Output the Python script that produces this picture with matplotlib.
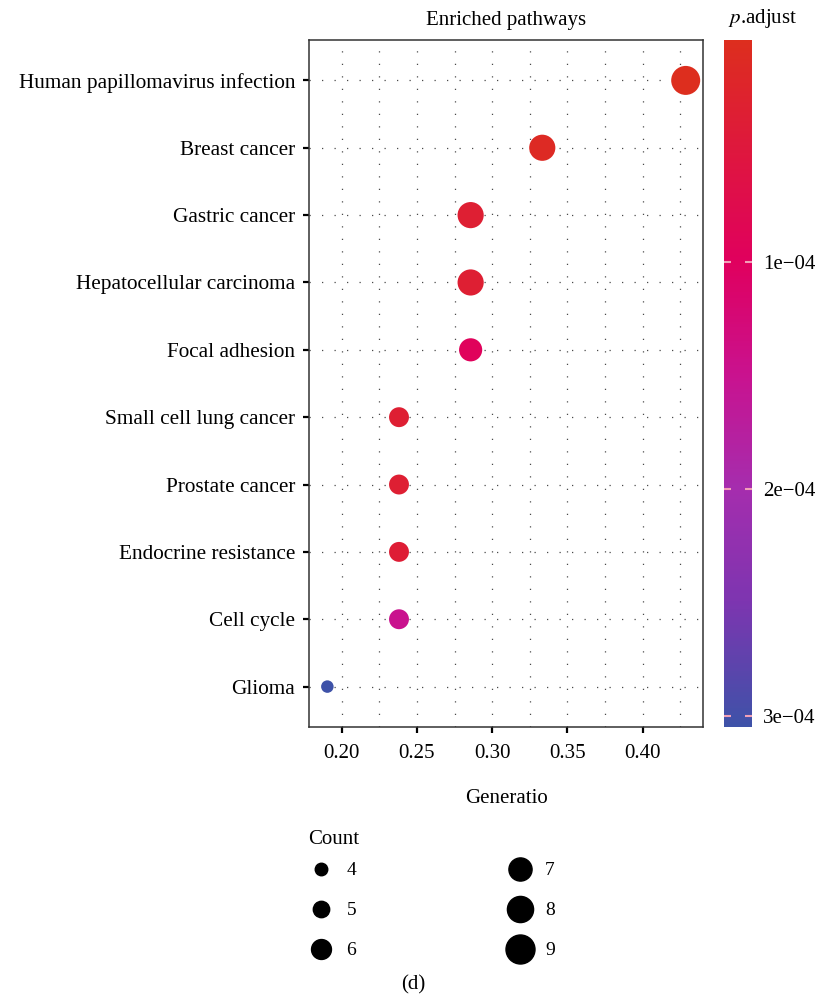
import matplotlib
matplotlib.use("Agg")
import matplotlib.pyplot as plt
import numpy as np
from matplotlib.colors import LinearSegmentedColormap, Normalize
from matplotlib.lines import Line2D
from matplotlib.ticker import MultipleLocator

plt.rcParams["font.family"] = ["Liberation Serif", "DejaVu Serif"]
plt.rcParams["mathtext.fontset"] = "stix"

pathways = [
    "Human papillomavirus infection",
    "Breast cancer",
    "Gastric cancer",
    "Hepatocellular carcinoma",
    "Focal adhesion",
    "Small cell lung cancer",
    "Prostate cancer",
    "Endocrine resistance",
    "Cell cycle",
    "Glioma",
]
gene_ratio = [0.4286, 0.3333, 0.2857, 0.2857, 0.2857, 0.2381, 0.2381, 0.2381, 0.2381, 0.1905]
counts = [9, 8, 8, 8, 7, 6, 6, 6, 6, 4]
p_adjust = [2.2e-6, 1.2e-5, 3.5e-5, 3.5e-5, 9.5e-5, 3.5e-5, 3.5e-5, 3.8e-5, 1.5e-4, 3.05e-4]

cbar_ticks = [1e-4, 2e-4, 3e-4]
cbar_labels = ["1e\u221204", "2e\u221204", "3e\u221204"]
legend_counts = [4, 5, 6, 7, 8, 9]

W, H = 816, 1002
fig = plt.figure(figsize=(W / 100, H / 100), dpi=100)


def fx(px):
    return px / W


def fy(px):
    return 1 - px / H


vmin, vmax = min(p_adjust), max(p_adjust)
stops = [
    (0.0, "#dd2e1e"),
    (0.323, "#e0005e"),
    (0.488, "#c9128f"),
    (0.653, "#a52dae"),
    (0.818, "#7d35b0"),
    (1.0, "#3e52a8"),
]
cmap = LinearSegmentedColormap.from_list("padj", stops)
norm = Normalize(vmin=vmin, vmax=vmax)


def diam_pt(c):
    # area-style scale: diameter grows with sqrt(count)
    lo, hi = min(legend_counts), max(legend_counts)
    d_px = 12.5 + (np.sqrt(c) - np.sqrt(lo)) / (np.sqrt(hi) - np.sqrt(lo)) * 16.5
    return d_px * 72 / 100


ax = fig.add_axes([fx(309), fy(727), fx(703) - fx(309), fy(40) - fy(727)])
y = np.arange(len(pathways))
sizes = [diam_pt(c) ** 2 for c in counts]
ax.scatter(gene_ratio, y, s=sizes, c=p_adjust, cmap=cmap, norm=norm,
           edgecolors="none", zorder=3)

ax.set_yticks(y)
ax.set_yticklabels(pathways, fontsize=15.3)
ax.set_ylim(len(pathways) - 0.4, -0.6)
ax.set_xlim(0.1783, 0.4401)
ax.xaxis.set_major_locator(MultipleLocator(0.05))
ax.xaxis.set_minor_locator(MultipleLocator(0.025))
ax.set_xticks([0.20, 0.25, 0.30, 0.35, 0.40])
ax.set_xticklabels(["0.20", "0.25", "0.30", "0.35", "0.40"], fontsize=15)

grid_kw = dict(color="#4a4a4a", linewidth=0.9, linestyle=(0, (1, 9)))
ax.grid(True, which="major", axis="both", **grid_kw)
ax.grid(True, which="minor", axis="x", **grid_kw)
ax.set_axisbelow(True)

ax.tick_params(axis="both", which="major", direction="out", length=4,
               width=1.6, color="black", pad=6)
ax.tick_params(axis="x", which="major", pad=8)
ax.tick_params(axis="x", which="minor", length=0)
for sp in ax.spines.values():
    sp.set_color("#333333")
    sp.set_linewidth(1.1)

ax.set_title("Enriched pathways", fontsize=15, pad=11)
ax.set_xlabel("Generatio", fontsize=15, labelpad=19)

# colour bar
cax = fig.add_axes([fx(724), fy(727), fx(752) - fx(724), fy(40) - fy(727)])
sm = plt.cm.ScalarMappable(cmap=cmap, norm=norm)
cb = fig.colorbar(sm, cax=cax)
cb.outline.set_visible(False)
cax.invert_yaxis()
cb.set_ticks(cbar_ticks)
cb.set_ticklabels(cbar_labels)
cax.tick_params(axis="y", which="both", direction="in", length=5, width=1.5,
                color="#f2a0b8", left=True, right=True, labelsize=15, pad=8)
cax.yaxis.set_minor_locator(plt.NullLocator())
fig.text(fx(728), fy(18), "$p$.adjust", fontsize=15, ha="left", va="center")

# size legend
handles = [
    Line2D([], [], marker="o", linestyle="none", color="black",
           markersize=diam_pt(c), label=str(c))
    for c in legend_counts
]
fig.text(fx(308), fy(840), "Count", fontsize=15, ha="left", va="center")
leg = fig.legend(handles=handles, ncol=2, frameon=False,
                 loc="upper left", bbox_to_anchor=(fx(298), fy(854)),
                 fontsize=14, labelspacing=1.15,
                 handlelength=1.6, handletextpad=0.5, columnspacing=7.6,
                 borderaxespad=0)

fig.text(fx(413), fy(985), "(d)", fontsize=15, ha="center", va="center")

fig.savefig("out.png", dpi=100)
